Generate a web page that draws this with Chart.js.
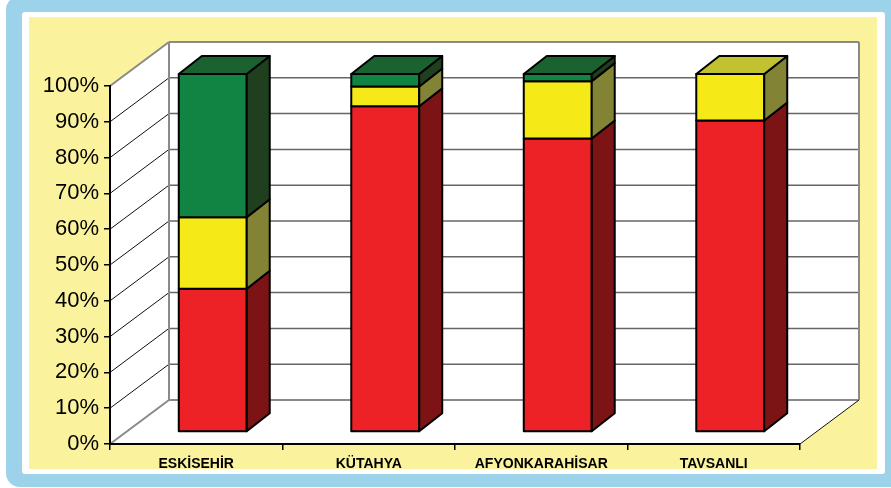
<!DOCTYPE html>
<html>
<head>
<meta charset="utf-8">
<script src="https://cdn.jsdelivr.net/npm/chart.js@4.4.1/dist/chart.umd.min.js"></script>
<style>
  html, body { margin: 0; padding: 0; background: #fff; }
  #wrap { width: 891px; height: 488px; }
</style>
</head>
<body>
<div id="wrap"><canvas id="chart" width="891" height="488"></canvas></div>
<script>
// data (share of each city, %)
const cities = ["ESKİSEHİR", "KÜTAHYA", "AFYONKARAHİSAR", "TAVSANLI"];
const redShare = [40, 91, 82, 87];
const yellowShare = [20, 5.5, 16, 13];
const greenShare = [40, 3.5, 2, 0];
const yTicks = [0, 10, 20, 30, 40, 50, 60, 70, 80, 90, 100];

// 3D look
const DX = 59, DY = -44;     // depth of the walls
const BX = 16.5, BY = -12;   // bar front plane, behind the axis plane
const PX = 23, PY = -18;     // bar depth
const faces = [
    { front: "#ed2226", side: "#7c1416", top: "#a01a1c" },
    { front: "#f5ea17", side: "#838335", top: "#c2c231" },
    { front: "#118443", side: "#203f1f", top: "#1b6231" }
];

function poly(ctx, pts, fill, stroke, lw) {
    ctx.beginPath();
    ctx.moveTo(pts[0][0], pts[0][1]);
    for (let i = 1; i < pts.length; i++) ctx.lineTo(pts[i][0], pts[i][1]);
    ctx.closePath();
    if (fill) { ctx.fillStyle = fill; ctx.fill(); }
    if (stroke) { ctx.strokeStyle = stroke; ctx.lineWidth = lw || 1; ctx.stroke(); }
}

function roundRect(ctx, x, y, w, h, r, fill) {
    ctx.beginPath();
    ctx.roundRect(x, y, w, h, r);
    ctx.fillStyle = fill;
    ctx.fill();
}

const walls3d = {
    id: "walls3d",
    beforeDraw(chart) {
        const ctx = chart.ctx;
        const { left: L, right: R, top: T, bottom: B } = chart.chartArea;
        const yScale = chart.scales.y;
        ctx.save();
        // frame
        roundRect(ctx, 6, -4, 900, 491, 14, "#9dd3ea");
        roundRect(ctx, 22, 12, 863, 462, 3, "#ffffff");
        ctx.fillStyle = "#faf29c";
        ctx.fillRect(29, 17, 848, 452);

        // walls and floor
        poly(ctx, [[L, T], [L + DX, T + DY], [L + DX, B + DY], [L, B]], "#fff");
        poly(ctx, [[L + DX, T + DY], [R + DX, T + DY], [R + DX, B + DY], [L + DX, B + DY]], "#fff");
        poly(ctx, [[L, B], [L + DX, B + DY], [R + DX, B + DY], [R, B]], "#fff");

        // grid lines on the left and back walls
        yTicks.forEach(v => {
            const y = yScale.getPixelForValue(v);
            const edge = v === 0 || v === 100;
            ctx.beginPath();
            ctx.moveTo(L, y);
            ctx.lineTo(L + DX, y + DY);
            ctx.strokeStyle = edge ? "#8a8a8a" : "#111";
            ctx.lineWidth = edge ? 2 : 1;
            ctx.stroke();
            ctx.beginPath();
            ctx.moveTo(L + DX, y + DY);
            ctx.lineTo(R + DX, y + DY);
            ctx.strokeStyle = edge ? "#8a8a8a" : "#666";
            ctx.lineWidth = edge ? 2 : 1.5;
            ctx.stroke();
        });
        ctx.beginPath();
        ctx.moveTo(L + DX, T + DY);
        ctx.lineTo(L + DX, B + DY);
        ctx.moveTo(R + DX, T + DY);
        ctx.lineTo(R + DX, B + DY);
        ctx.strokeStyle = "#8a8a8a";
        ctx.lineWidth = 2;
        ctx.stroke();
        // floor right edge
        ctx.beginPath();
        ctx.moveTo(R, B);
        ctx.lineTo(R + DX, B + DY);
        ctx.strokeStyle = "#111";
        ctx.lineWidth = 1;
        ctx.stroke();
        ctx.restore();
    },
    beforeDatasetsDraw(chart) {
        const ctx = chart.ctx;
        ctx.save();
        ctx.lineJoin = "round";
        const n = chart.data.labels.length;
        for (let i = 0; i < n; i++) {
            // topmost non-empty segment gets the lid
            let topDs = -1;
            chart.data.datasets.forEach((ds, d) => { if (ds.data[i] > 0) topDs = d; });
            chart.data.datasets.forEach((ds, d) => {
                if (!(ds.data[i] > 0)) return;
                const el = chart.getDatasetMeta(d).data[i];
                const x0 = el.x - el.width / 2 + BX, x1 = el.x + el.width / 2 + BX;
                const yt = el.y + BY, yb = el.base + BY;
                const f = faces[d];
                poly(ctx, [[x0, yt], [x1, yt], [x1, yb], [x0, yb]], f.front, "#000", 2);
                poly(ctx, [[x1, yb], [x1 + PX, yb + PY], [x1 + PX, yt + PY], [x1, yt]], f.side, "#000", 2);
                if (d === topDs) {
                    poly(ctx, [[x0, yt], [x0 + PX, yt + PY], [x1 + PX, yt + PY], [x1, yt]], f.top, "#000", 2);
                }
            });
        }
        ctx.restore();
        return false;
    }
};

new Chart(document.getElementById("chart"), {
    type: "bar",
    data: {
        labels: cities,
        datasets: [
            { label: "red", data: redShare, backgroundColor: faces[0].front },
            { label: "yellow", data: yellowShare, backgroundColor: faces[1].front },
            { label: "green", data: greenShare, backgroundColor: faces[2].front }
        ]
    },
    options: {
        responsive: false,
        animation: false,
        devicePixelRatio: 1,
        layout: { padding: { top: 86, right: 91, left: 0, bottom: 0 } },
        datasets: { bar: { categoryPercentage: 1, barPercentage: 0.394 } },
        plugins: { legend: { display: false }, tooltip: { enabled: false } },
        scales: {
            x: {
                stacked: true,
                afterFit: s => { s.height = 44; },
                grid: { display: true, drawOnChartArea: false, color: "#000", tickLength: 6, lineWidth: 1.5 },
                border: { display: true, color: "#000", width: 2 },
                ticks: {
                    color: "#000",
                    padding: 6,
                    font: { family: "'Liberation Sans', Arial, sans-serif", size: 14, weight: "bold" }
                }
            },
            y: {
                stacked: true,
                min: 0,
                max: 100,
                afterFit: s => { s.width = 110; },
                afterBuildTicks: s => { s.ticks = yTicks.map(v => ({ value: v })); },
                grid: { display: true, drawOnChartArea: false, color: "#000", tickLength: 6, lineWidth: 1.5 },
                border: { display: true, color: "#000", width: 2 },
                ticks: {
                    color: "#000",
                    padding: 5,
                    callback: v => v + "%",
                    font: { family: "'Liberation Sans', Arial, sans-serif", size: 22 }
                }
            }
        }
    },
    plugins: [walls3d]
});
</script>
</body>
</html>
